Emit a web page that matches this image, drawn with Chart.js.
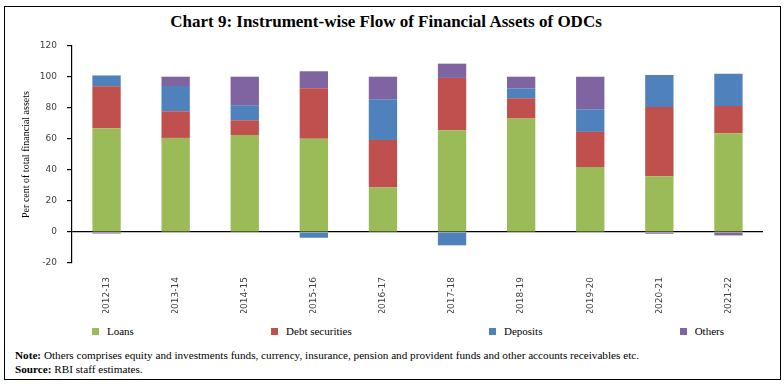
<!DOCTYPE html>
<html lang="en">
<head>
  <meta charset="UTF-8">
  <title>Chart 9: Instrument-wise Flow of Financial Assets of ODCs</title>
  <script src="https://cdn.jsdelivr.net/npm/chart.js"></script>
  <style>
    * {
      margin: 0;
      padding: 0;
      box-sizing: border-box;
    }

    body {
      width: 784px;
      height: 384px;
      background: #fff;
      position: relative;
      overflow: hidden;
      font-family: 'Liberation Serif', 'DejaVu Serif', serif;
      color: #000;
    }

    /* Outer frame */
    .frame {
      position: absolute;
      left: 4px;
      top: 6px;
      width: 777px;
      height: 374px;
      border: 1px solid #000;
    }

    h1 {
      position: absolute;
      left: 0;
      top: 12px;
      width: 772px;
      text-align: center;
      font-size: 17px;
      font-weight: bold;
      line-height: 20px;
    }

    .chart-box {
      position: absolute;
      left: 0;
      top: 0;
      width: 784px;
      height: 320px;
    }

    /* Legend */
    #legend {
      position: absolute;
      left: 92px;
      top: 323px;
      width: 632px;
      display: flex;
      justify-content: space-between;
      align-items: center;
      font-size: 11px;
      line-height: 16px;
    }

    .legend-item {
      display: flex;
      align-items: center;
    }

    .legend-item span.box {
      width: 7px;
      height: 7px;
      margin-right: 8px;
    }

    .notes {
      position: absolute;
      left: 15px;
      top: 348px;
      font-size: 11.2px;
      line-height: 14px;
    }
  </style>
</head>
<body>
  <div class="frame"></div>
  <h1>Chart 9: Instrument-wise Flow of Financial Assets of ODCs</h1>

  <div class="chart-box">
    <canvas id="odcChart" width="784" height="320"></canvas>
  </div>

  <div id="legend"></div>

  <div class="notes">
    <p><b>Note:</b> Others comprises equity and investments funds, currency, insurance, pension and provident funds and other accounts receivables etc.</p>
    <p><b>Source:</b> RBI staff estimates.</p>
  </div>

  <script>
    // data (per cent of total financial assets)
    const years = ['2012-13', '2013-14', '2014-15', '2015-16', '2016-17',
                   '2017-18', '2018-19', '2019-20', '2020-21', '2021-22'];

    const loans          = [67.0, 60.7, 62.6, 60.1, 28.7, 65.7, 73.2, 42.0, 36.0, 63.7];
    const debtSecurities = [27.0, 17.2,  9.5, 32.6, 30.7, 33.7, 13.1, 22.6, 44.7, 17.6];
    const deposits       = [ 7.0, 16.3,  9.7, -3.7, 26.2, -8.6,  6.4, 14.6, 20.6, 20.8];
    const others         = [-1.0,  6.0, 18.4, 11.0, 14.6,  9.2,  7.5, 21.0, -1.1, -2.2];

    const seriesNames = ['Loans', 'Debt securities', 'Deposits', 'Others'];
    const seriesColors = ['#9BBB59', '#C0504D', '#4F81BD', '#8064A2'];
    const yTicks = [-20, 0, 20, 40, 60, 80, 100, 120];

    const seriesData = [loans, debtSecurities, deposits, others];

    Chart.defaults.font.family = "'DejaVu Sans', sans-serif";
    Chart.defaults.font.size = 9;
    Chart.defaults.color = '#404040';

    const ctx = document.getElementById('odcChart').getContext('2d');
    const chart = new Chart(ctx, {
      type: 'bar',
      data: {
        labels: years,
        datasets: seriesNames.map((name, i) => ({
          label: name,
          data: seriesData[i],
          backgroundColor: seriesColors[i],
          borderWidth: 0,
          categoryPercentage: 1,
          barPercentage: 0.41
        }))
      },
      options: {
        responsive: false,
        animation: false,
        layout: {
          padding: { left: 16, right: 21, top: 46, bottom: 7 }
        },
        plugins: {
          legend: { display: false },
          tooltip: { enabled: false }
        },
        scales: {
          x: {
            stacked: true,
            grid: { display: false, drawTicks: false, tickLength: 0 },
            border: { display: false },
            ticks: {
              minRotation: 90,
              maxRotation: 90,
              padding: 14,
              autoSkip: false
            },
            afterFit: scale => { scale.height = 50; }
          },
          y: {
            stacked: true,
            min: -20,
            max: 120,
            z: 1,
            afterBuildTicks: scale => {
              scale.ticks = yTicks.map(v => ({ value: v }));
            },
            afterFit: scale => { scale.width = 56; },
            grid: {
              color: c => (c.tick && c.tick.value === 0 ? '#000' : 'rgba(0,0,0,0)'),
              tickColor: '#000',
              tickLength: 5,
              lineWidth: 1.2
            },
            border: { display: true, color: '#000', width: 1.2 },
            ticks: { padding: 10 },
            title: {
              display: true,
              text: 'Per cent of total financial assets',
              color: '#000',
              font: { family: "'Liberation Serif', serif", size: 10 }
            }
          }
        }
      }
    });

    // legend under the chart
    const legendEl = document.getElementById('legend');
    seriesNames.forEach((name, i) => {
      const item = document.createElement('div');
      item.className = 'legend-item';
      item.innerHTML = `<span class="box" style="background:${seriesColors[i]}"></span><span>${name}</span>`;
      legendEl.appendChild(item);
    });
  </script>
</body>
</html>
